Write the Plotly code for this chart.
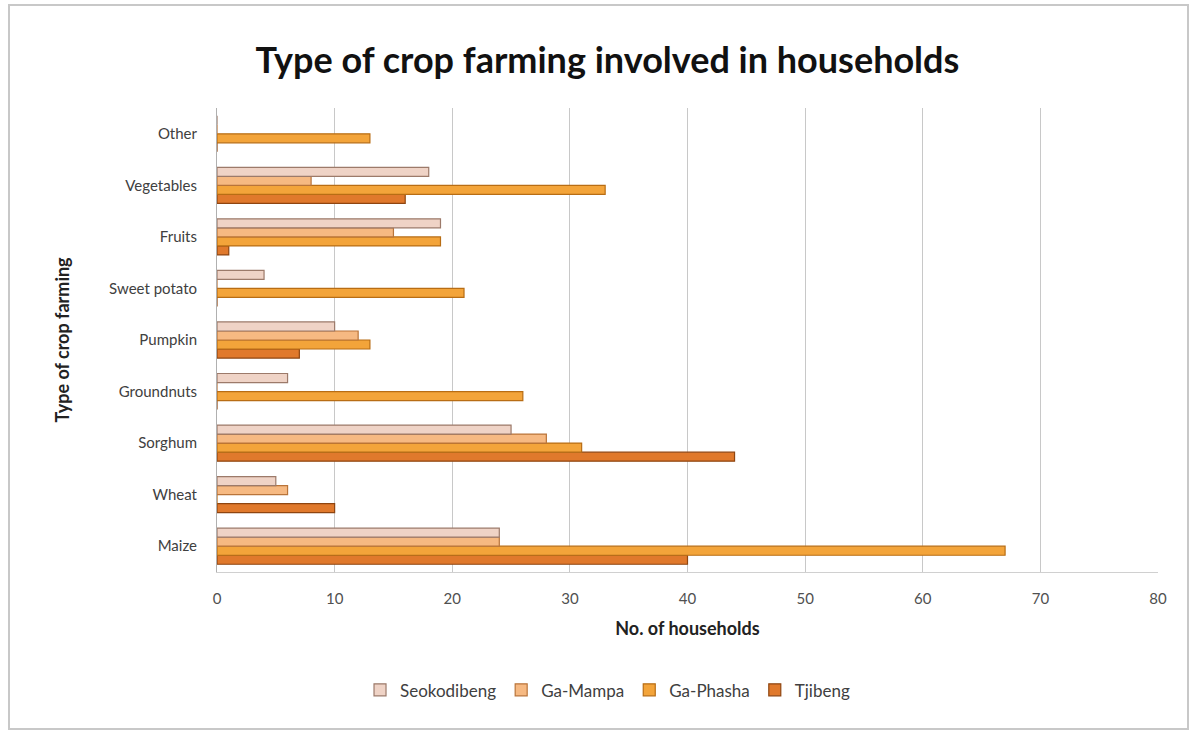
import plotly.graph_objects as go

categories = ["Maize", "Wheat", "Sorghum", "Groundnuts", "Pumpkin",
              "Sweet potato", "Fruits", "Vegetables", "Other"]
seokodibeng = [24, 5, 25, 6, 10, 4, 19, 18, 0]
ga_mampa = [24, 6, 28, 0, 12, 0, 15, 8, 0]
ga_phasha = [67, 0, 31, 26, 13, 21, 19, 33, 13]
tjibeng = [40, 10, 44, 0, 7, 0, 1, 16, 0]
x_ticks = [0, 10, 20, 30, 40, 50, 60, 70, 80]

series = [
    ("Seokodibeng", seokodibeng, "#efd3c6", "#9c7a6a"),
    ("Ga-Mampa", ga_mampa, "#f6b982", "#b9743a"),
    ("Ga-Phasha", ga_phasha, "#f3a43a", "#b86d14"),
    ("Tjibeng", tjibeng, "#e0792c", "#8f4510"),
]

FONT = "Lato"
fig = go.Figure()
# Plotly stacks horizontal grouped bars bottom-up, so add in reverse
for name, vals, col, edge in reversed(series):
    fig.add_trace(go.Bar(
        y=categories, x=vals, name=name, orientation="h",
        marker=dict(color=col, line=dict(color=edge, width=1.2)),
    ))

fig.update_layout(
    width=1191, height=734,
    paper_bgcolor="white", plot_bgcolor="white",
    margin=dict(l=217, r=33, t=108, b=162),
    barmode="group", bargap=0.3, bargroupgap=0.0,
    font=dict(family=FONT, color="#404040", size=14),
    title=dict(text="<b>Type of crop farming involved in households</b>",
               x=0.51, xanchor="center", y=0.918, yanchor="middle",
               font=dict(family=FONT, size=36, color="#111111")),
    legend=dict(orientation="h", traceorder="reversed",
                x=0.415, xanchor="center", y=-0.255, yanchor="middle",
                font=dict(family=FONT, size=17, color="#404040"),
                itemwidth=30),
    showlegend=True,
)
fig.update_xaxes(
    range=[0, 80], tickvals=x_ticks, ticktext=[str(t) for t in x_ticks],
    showgrid=True, gridcolor="#c8c8c8", gridwidth=1,
    zeroline=False, showline=True, linecolor="#d0d0d0",
    ticklabelstandoff=13,
    tickfont=dict(family=FONT, size=15, color="#505050"),
    title=dict(text="<b>No. of households</b>", standoff=16,
               font=dict(family=FONT, size=18, color="#222222")),
)
fig.update_yaxes(
    showgrid=False, showline=True, linecolor="#b0b0b0",
    ticks="", ticklabelstandoff=16,
    tickfont=dict(family=FONT, size=15, color="#404040"),
    title=dict(text="<b>Type of crop farming</b>", standoff=34,
               font=dict(family=FONT, size=18, color="#222222")),
)
fig.add_shape(type="rect", xref="paper", yref="paper",
              x0=(9 - 217) / 941, x1=(1188 - 217) / 941,
              y0=(572 - 729) / 464, y1=(572 - 5) / 464,
              line=dict(color="#c8c8c8", width=2), layer="below")

fig.write_html("out.html")
